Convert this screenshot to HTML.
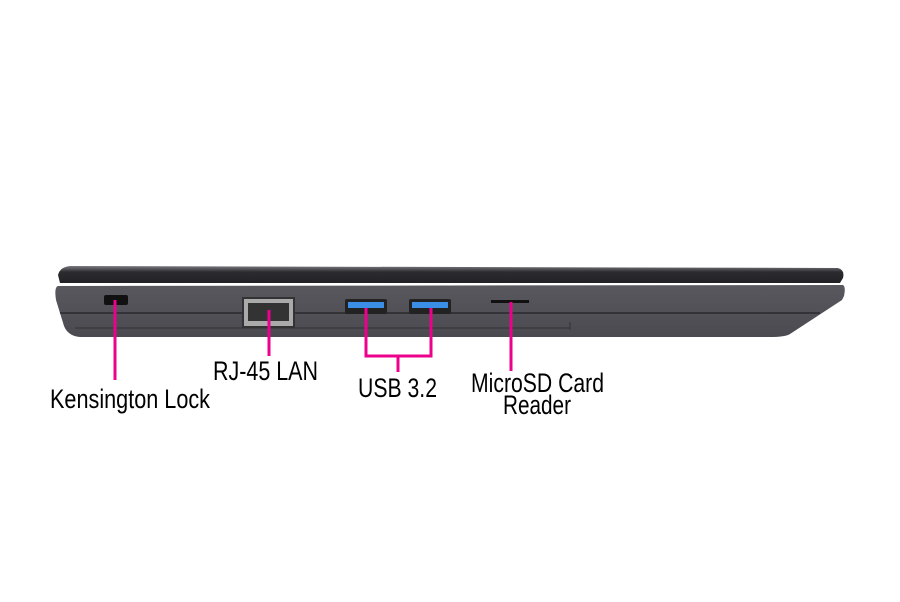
<!DOCTYPE html>
<html><head><meta charset="utf-8"><style>
html,body{margin:0;padding:0;background:#fff;}
svg{display:block}
text{font-family:"Liberation Sans Narrow","Liberation Sans",sans-serif;fill:#000;font-size:27px}
</style></head><body>
<svg width="900" height="602" viewBox="0 0 900 602" xmlns="http://www.w3.org/2000/svg">
<defs>
<linearGradient id="lid" x1="0" y1="0" x2="0" y2="1">
<stop offset="0" stop-color="#7a7a80"/><stop offset="0.35" stop-color="#2c2c30"/><stop offset="1" stop-color="#222226"/></linearGradient>
<linearGradient id="base" x1="0" y1="0" x2="0" y2="1">
<stop offset="0" stop-color="#58585e"/><stop offset="1" stop-color="#4a4a50"/></linearGradient>
</defs>
<path d="M70 266 L838 268 Q845 270 843 278 L840 283 L60 283 L58 275 Q60 267 70 266 Z" fill="url(#lid)"/>
<path d="M58 286 L843 285 Q846 287 844 296 L842 300 L790 334 Q785 337 770 337 L80 337 Q68 336 64 326 L56 300 Q54 287 58 286 Z" fill="url(#base)"/>
<line x1="60" y1="313" x2="820" y2="313" stroke="#2a2a2e" stroke-width="1.5"/>
<line x1="75" y1="328" x2="570" y2="328" stroke="#333" stroke-width="1"/>
<line x1="570" y1="322" x2="570" y2="330" stroke="#333" stroke-width="1"/>
<rect x="104" y="295" width="24" height="10" rx="2" fill="#111"/>
<rect x="243" y="298" width="51" height="29" fill="#aaa" stroke="#333" stroke-width="2"/>
<rect x="248" y="303" width="41" height="18" fill="#333"/>
<rect x="345" y="299" width="42" height="15" rx="2" fill="#222"/>
<rect x="348" y="302" width="36" height="6" fill="#3a8ee6"/>
<rect x="409" y="299" width="42" height="15" rx="2" fill="#222"/>
<rect x="412" y="302" width="36" height="6" fill="#3a8ee6"/>
<rect x="491" y="300" width="38" height="3" fill="#111"/>
<g stroke="#ec008c" stroke-width="3" fill="none">
<line x1="115" y1="300" x2="115" y2="380"/>
<line x1="269" y1="310" x2="269" y2="356"/>
<polyline points="366,308 366,356 431,356 431,308"/>
<line x1="398" y1="356" x2="398" y2="372"/>
<line x1="511" y1="302" x2="511" y2="371"/>
</g>
<text x="50" y="408" textLength="160" lengthAdjust="spacingAndGlyphs">Kensington Lock</text>
<text x="213" y="380" textLength="105" lengthAdjust="spacingAndGlyphs">RJ-45 LAN</text>
<text x="358" y="397" textLength="79" lengthAdjust="spacingAndGlyphs">USB 3.2</text>
<text x="471" y="392" textLength="133" lengthAdjust="spacingAndGlyphs">MicroSD Card</text>
<text x="503" y="414" textLength="68" lengthAdjust="spacingAndGlyphs">Reader</text>
</svg>
</body></html>
